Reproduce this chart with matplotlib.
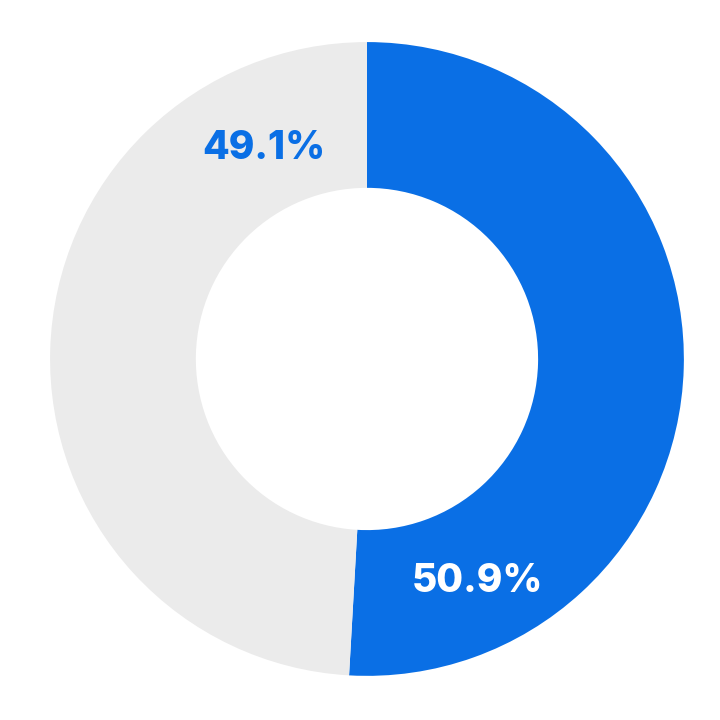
import matplotlib.pyplot as plt
import numpy as np

labels = ["50.9%", "49.1%"]
values = [50.9, 49.1]
colors = ["#0A6FE5", "#EBEBEB"]
text_colors = ["white", "#0A6FE5"]
label_angles = [153.7, 334.0]  # degrees clockwise from top
label_radii = [0.785, 0.74]

fig = plt.figure(figsize=(7.2, 7.2), dpi=100)
ax = fig.add_axes([0, 0, 1, 1])
ax.pie(
    values,
    colors=colors,
    startangle=90,
    counterclock=False,
    radius=1.0,
    wedgeprops=dict(width=0.46, edgecolor="none"),
)
ax.set_xlim(-1.158, 1.114)
ax.set_ylim(-1.139, 1.1325)
ax.set_aspect("equal")
ax.axis("off")

for lab, ang, rr, tc in zip(labels, label_angles, label_radii, text_colors):
    a = np.deg2rad(ang)
    ax.text(rr * np.sin(a), rr * np.cos(a), lab, ha="center", va="center",
            fontsize=28, fontweight="heavy", color=tc, family="Inter")

fig.savefig("out.png", dpi=100)
